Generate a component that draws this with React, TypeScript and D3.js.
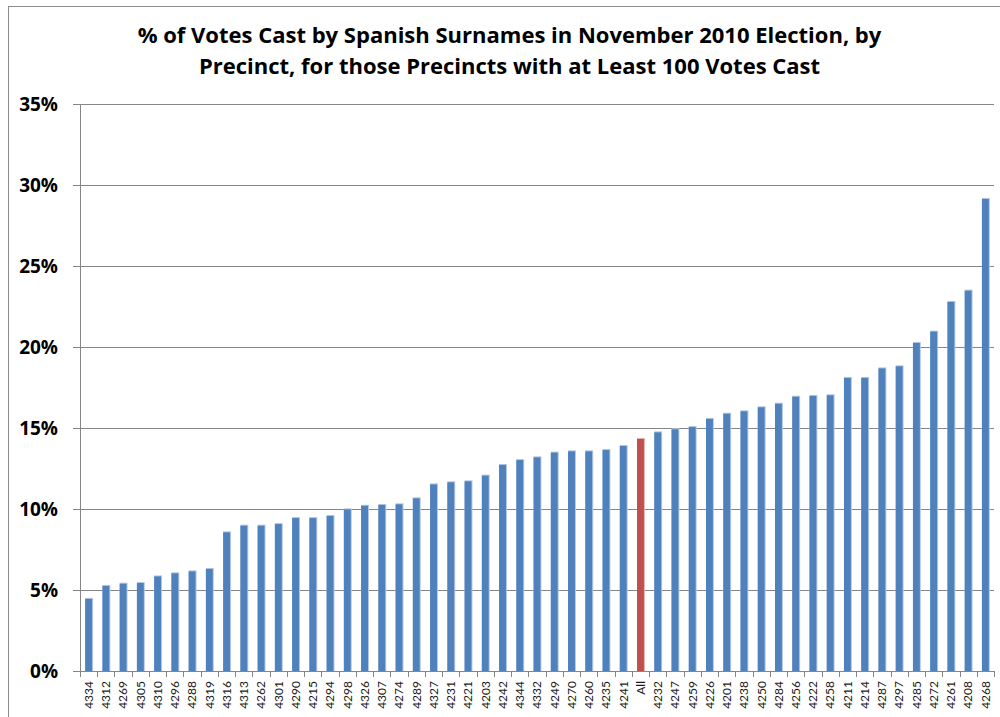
import React, { useEffect, useRef } from "react";
import * as d3 from "d3";

// Precinct labels in plotted order (sorted by share), "All" is the overall figure
const precincts: string[] = [
  "4334", "4312", "4269", "4305", "4310", "4296", "4288", "4319", "4316", "4313",
  "4262", "4301", "4290", "4215", "4294", "4298", "4326", "4307", "4274", "4289",
  "4327", "4231", "4221", "4203", "4242", "4344", "4332", "4249", "4270", "4260",
  "4235", "4241", "All", "4232", "4247", "4259", "4226", "4201", "4238", "4250",
  "4284", "4256", "4222", "4258", "4211", "4214", "4287", "4297", "4285", "4272",
  "4261", "4208", "4268",
];

// Share of votes cast by Spanish surnames, percent
const sharePct: number[] = [
  4.45, 5.25, 5.39, 5.43, 5.84, 6.03, 6.15, 6.3, 8.56, 8.97,
  8.97, 9.07, 9.44, 9.44, 9.57, 9.98, 10.2, 10.25, 10.29, 10.66,
  11.52, 11.65, 11.71, 12.06, 12.72, 13.02, 13.19, 13.48, 13.56, 13.56,
  13.64, 13.89, 14.32, 14.73, 14.92, 15.06, 15.56, 15.88, 16.03, 16.28,
  16.5, 16.93, 16.98, 17.02, 18.09, 18.09, 18.68, 18.81, 20.25, 20.95,
  22.78, 23.48, 29.14,
];

const yTicks: number[] = [0, 5, 10, 15, 20, 25, 30, 35];

const titleLines: string[] = [
  "% of Votes Cast by Spanish Surnames in November 2010 Election, by",
  "Precinct, for those Precincts with at Least 100 Votes Cast",
];

const W = 1000;
const H = 717;
const BOLD_FONT = "'Open Sans', Lato, sans-serif";
const LABEL_FONT = "Lato, 'Open Sans', sans-serif";

export default function App() {
  const ref = useRef<SVGSVGElement | null>(null);

  useEffect(() => {
    document.body.style.margin = "0";
    const svg = d3.select(ref.current);
    svg.selectAll("*").remove();

    const left = 80;
    const right = 994;
    const top = 104;
    const bottom = 671;

    const x = d3
      .scaleBand<string>()
      .domain(precincts)
      .range([left, right])
      .paddingInner(0.6)
      .paddingOuter(0.3);
    const y = d3.scaleLinear().domain([0, 35]).range([bottom, top]);
    const step = x.step();

    // chart frame
    svg
      .append("rect")
      .attr("x", 8.5)
      .attr("y", 6.5)
      .attr("width", 1010)
      .attr("height", 730)
      .attr("fill", "#fff")
      .attr("stroke", "#8c8c8c")
      .attr("stroke-width", 1);

    // title
    const title = svg
      .append("text")
      .attr("font-family", BOLD_FONT)
      .attr("font-weight", "bold")
      .attr("font-size", 22)
      .attr("text-anchor", "middle")
      .attr("fill", "#000");
    titleLines.forEach((line, i) => {
      title
        .append("tspan")
        .attr("x", 509.5)
        .attr("y", 43 + i * 31)
        .text(line);
    });

    // horizontal gridlines and y tick marks
    const g = svg.append("g");
    yTicks.forEach((t) => {
      const yy = Math.round(y(t)) + 0.5;
      g.append("line")
        .attr("x1", left - 7)
        .attr("x2", right)
        .attr("y1", yy)
        .attr("y2", yy)
        .attr("stroke", "#868686")
        .attr("stroke-width", 1);
      g.append("text")
        .attr("x", 58)
        .attr("y", y(t) + 7)
        .attr("text-anchor", "end")
        .attr("font-family", BOLD_FONT)
        .attr("font-weight", "bold")
        .attr("font-size", 19)
        .attr("fill", "#000")
        .text(`${t}%`);
    });

    // y axis line
    g.append("line")
      .attr("x1", left + 0.5)
      .attr("x2", left + 0.5)
      .attr("y1", top)
      .attr("y2", bottom)
      .attr("stroke", "#868686");

    // x tick marks at category boundaries
    d3.range(precincts.length + 1).forEach((k) => {
      const xx = Math.round(left + k * step) + 0.5;
      g.append("line")
        .attr("x1", xx)
        .attr("x2", xx)
        .attr("y1", bottom)
        .attr("y2", bottom + 6)
        .attr("stroke", "#868686");
    });

    // bars
    const bars = svg.append("g");
    precincts.forEach((p, i) => {
      const v = sharePct[i];
      const bx = x(p) as number;
      const bw = x.bandwidth();
      const by = y(v);
      const fill = p === "All" ? "#C0504D" : "#4F81BD";
      const glow = p === "All" ? "#E2AFAE" : "#B3C7E2";
      bars
        .append("rect")
        .attr("x", bx)
        .attr("y", by - 1)
        .attr("width", bw + 1)
        .attr("height", bottom - by + 1)
        .attr("fill", glow);
      bars
        .append("rect")
        .attr("x", bx)
        .attr("y", by)
        .attr("width", bw)
        .attr("height", bottom - by)
        .attr("fill", fill);
    });

    // x axis line on top of bars
    svg
      .append("line")
      .attr("x1", left)
      .attr("x2", right)
      .attr("y1", bottom + 0.5)
      .attr("y2", bottom + 0.5)
      .attr("stroke", "#868686");

    // rotated category labels
    const labels = svg.append("g");
    precincts.forEach((p) => {
      const cx = (x(p) as number) + x.bandwidth() / 2;
      labels
        .append("text")
        .attr("transform", `translate(${cx},681) rotate(-90)`)
        .attr("dy", "0.36em")
        .attr("text-anchor", "end")
        .attr("font-family", LABEL_FONT)
        .attr("font-size", 12)
        .attr("fill", "#1a1a1a")
        .text(p);
    });
  }, []);

  return (
    <svg
      ref={ref}
      width={W}
      height={H}
      style={{ display: "block", position: "absolute", left: 0, top: 0 }}
    />
  );
}
